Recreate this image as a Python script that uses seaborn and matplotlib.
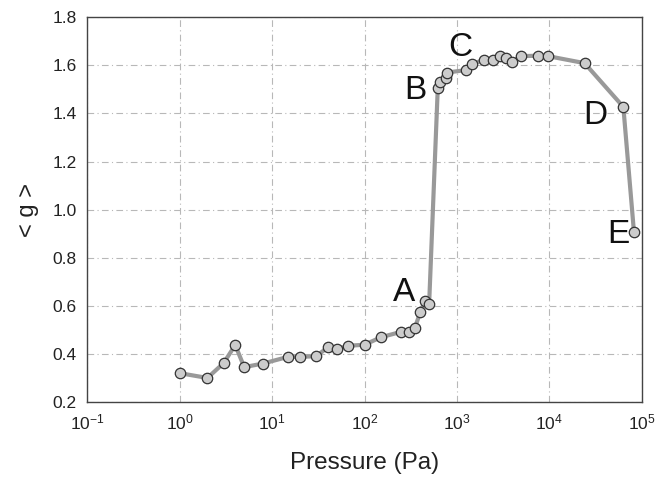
import matplotlib
matplotlib.use("Agg")
import matplotlib.pyplot as plt
import seaborn as sns
import pandas as pd
from matplotlib.ticker import FixedLocator, NullLocator

pressure = [1, 2, 3, 4, 5, 8, 15, 20, 30, 40, 50, 67, 100, 150, 250, 300, 350,
            400, 450, 500, 620, 660, 760, 780, 1250, 1450, 1950, 2450, 2900,
            3400, 3900, 4900, 7600, 9700, 24000, 63000, 82000]
g_value = [0.32, 0.30, 0.362, 0.437, 0.345, 0.36, 0.388, 0.388, 0.39, 0.427,
           0.419, 0.434, 0.438, 0.469, 0.492, 0.49, 0.507, 0.573, 0.618, 0.608,
           1.506, 1.529, 1.548, 1.57, 1.58, 1.607, 1.621, 1.624, 1.638, 1.63,
           1.612, 1.638, 1.64, 1.638, 1.609, 1.427, 0.908]
labels = ["A", "B", "C", "D", "E"]
label_x = [265, 355, 1090, 31600, 55700]
label_y = [0.657, 1.497, 1.675, 1.39, 0.898]
x_ticks = [0.1, 1, 10, 100, 1000, 10000, 100000]
x_ticklabels = ["$10^{-1}$", "$10^{0}$", "$10^{1}$", "$10^{2}$", "$10^{3}$", "$10^{4}$", "$10^{5}$"]
y_ticks = [0.2, 0.4, 0.6, 0.8, 1.0, 1.2, 1.4, 1.6, 1.8]
y_ticklabels = ["0.2", "0.4", "0.6", "0.8", "1.0", "1.2", "1.4", "1.6", "1.8"]

df = pd.DataFrame({"Pressure": pressure, "g": g_value})

sns.set_style("white")
plt.rcParams['font.family'] = ['Liberation Sans', 'DejaVu Sans']
plt.rcParams['mathtext.fontset'] = 'custom'
plt.rcParams['mathtext.rm'] = 'Liberation Sans'
plt.rcParams['mathtext.it'] = 'Liberation Sans'

fig = plt.figure(figsize=(6.55, 4.78), dpi=100)
ax = fig.add_axes([0.133, 0.159, 0.847, 0.805])

sns.lineplot(data=df, x="Pressure", y="g", sort=False, ax=ax,
             color="#999999", linewidth=3, marker="o", markersize=7.5,
             markerfacecolor="#cccccc", markeredgecolor="#333333",
             markeredgewidth=0.9, zorder=3)

ax.set_xscale("log")
ax.set_xlim(0.1, 1e5)
ax.set_ylim(0.2, 1.8)
ax.xaxis.set_major_locator(FixedLocator(x_ticks))
ax.xaxis.set_minor_locator(NullLocator())
ax.set_xticklabels(x_ticklabels)
ax.yaxis.set_major_locator(FixedLocator(y_ticks))
ax.set_yticklabels(y_ticklabels)

ax.grid(True, which="major", color="#b8b8b8", linestyle=(0, (6, 3, 1, 3)), linewidth=0.8)
for s in ax.spines.values():
    s.set_color("#444444")
    s.set_linewidth(1.0)
ax.tick_params(axis="both", which="major", direction="inout", length=7,
               width=1, color="#444444", labelsize=12.5, labelcolor="#222222", pad=4)

ax.set_xlabel("Pressure (Pa)", fontsize=17.5, color="#222222", labelpad=14)
ax.set_ylabel("< g >", fontsize=17, color="#222222", labelpad=10)

for t, lx, ly in zip(labels, label_x, label_y):
    ax.text(lx, ly, t, fontsize=24, color="#111111", ha="center", va="center")

fig.savefig("out.png", dpi=100)
